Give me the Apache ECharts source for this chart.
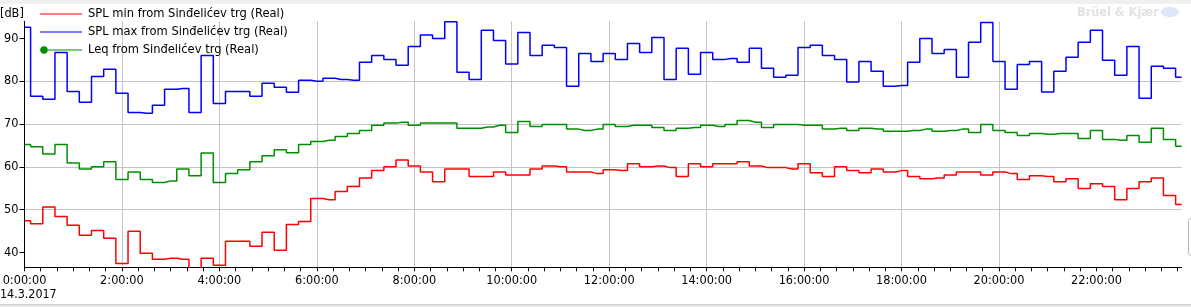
<!DOCTYPE html>
<html>
<head>
<meta charset="utf-8">
<script src="https://cdn.jsdelivr.net/npm/echarts@6/dist/echarts.min.js"></script>
<style>
html,body{margin:0;padding:0;background:#fff;}
#c{width:1191px;height:307px;}
</style>
</head>
<body>
<div id="c"></div>
<script>
// 15-minute measurement intervals on 14.3.2017
const timeLabels = [
 '0:00','0:15','0:30','0:45','1:00','1:15','1:30','1:45','2:00','2:15','2:30','2:45',
 '3:00','3:15','3:30','3:45','4:00','4:15','4:30','4:45','5:00','5:15','5:30','5:45',
 '6:00','6:15','6:30','6:45','7:00','7:15','7:30','7:45','8:00','8:15','8:30','8:45',
 '9:00','9:15','9:30','9:45','10:00','10:15','10:30','10:45','11:00','11:15','11:30','11:45',
 '12:00','12:15','12:30','12:45','13:00','13:15','13:30','13:45','14:00','14:15','14:30','14:45',
 '15:00','15:15','15:30','15:45','16:00','16:15','16:30','16:45','17:00','17:15','17:30','17:45',
 '18:00','18:15','18:30','18:45','19:00','19:15','19:30','19:45','20:00','20:15','20:30','20:45',
 '21:00','21:15','21:30','21:45','22:00','22:15','22:30','22:45','23:00','23:15','23:30','23:45'
];

const splMin = [
 47.4,46.7,50.6,48.4,46.3,44.0,45.1,43.3,37.4,44.9,39.8,38.4,
 38.6,38.4,35.5,38.6,37.0,42.6,42.6,41.4,44.7,40.5,46.5,47.2,
 52.6,52.3,54.2,55.4,57.4,59.1,60.0,61.6,60.2,58.8,56.5,59.5,
 59.5,57.7,57.7,58.8,58.1,58.1,59.5,60.2,60.0,58.8,58.8,58.4,
 59.3,59.1,60.7,60.0,60.2,59.8,57.7,60.7,60.0,60.7,60.7,61.2,
 60.2,59.8,59.8,59.5,60.7,58.6,57.7,60.0,59.1,58.6,59.5,58.8,
 59.1,57.7,57.2,57.4,58.1,58.8,58.8,58.1,58.8,58.4,57.0,57.9,
 57.7,56.5,57.2,54.9,56.0,55.4,52.3,54.9,56.5,57.4,53.3,51.2
];

const splMax = [
 92.6,76.5,75.8,86.7,77.6,75.1,81.1,82.8,77.2,72.7,72.5,74.4,
 78.1,78.3,72.7,86.0,74.8,77.6,77.6,76.5,79.5,78.6,77.4,80.2,
 80.0,80.7,80.4,80.2,84.4,86.0,85.1,83.7,88.1,90.8,90.0,93.9,
 82.1,80.4,91.9,89.5,84.0,91.4,86.0,88.4,87.9,78.8,86.5,84.6,
 86.5,85.1,88.8,86.7,90.2,80.4,87.7,81.6,86.7,85.1,85.3,84.4,
 87.7,83.0,80.9,81.4,87.9,88.4,86.0,85.1,79.8,84.6,82.3,78.8,
 79.0,84.4,90.0,86.5,87.4,80.9,89.1,93.7,84.6,78.1,83.9,84.6,
 77.5,82.3,85.6,89.1,91.9,84.9,81.4,88.1,76.0,83.5,83.0,80.9
];

const leq = [
 65.2,64.7,63.0,65.2,60.9,59.5,60.0,61.2,57.0,58.8,57.0,56.3,
 56.7,59.5,57.9,63.2,56.3,58.4,59.3,61.2,62.6,64.0,63.3,65.2,
 65.9,66.2,67.1,67.8,68.5,69.7,70.2,70.4,69.7,70.2,70.2,70.2,
 69.0,69.0,69.3,69.7,68.0,70.6,69.4,69.9,69.9,68.8,68.5,68.8,
 69.9,69.4,69.7,69.7,69.2,68.5,69.0,69.2,69.7,69.4,69.9,70.8,
 70.4,69.2,69.9,69.9,69.7,69.7,68.8,69.0,68.5,69.0,68.8,68.3,
 68.3,68.5,68.8,68.3,68.5,68.8,68.0,69.9,68.5,68.0,67.3,67.8,
 67.6,67.8,67.8,66.6,68.5,66.4,66.2,67.3,65.7,69.0,66.4,64.8
];

const xTicks = [0,2,4,6,8,10,12,14,16,18,20,22];
const yTicks = [40,50,60,70,80,90];
const dateLabel = '14.3.2017';

const FONT = "'DejaVu Sans Condensed', 'DejaVu Sans', sans-serif";

function toHours(s){ const p = s.split(':'); return +p[0] + (+p[1])/60; }
const hours = timeLabels.map(toHours);
const pairs = arr => arr.map((v,i)=>[hours[i], v]);

const lineIcon = 'path://M0,0 L0.01,0 Z M0,8 L0.01,8 Z M0,3.5 H42 V4.5 H0 Z';
const dotIcon = 'path://M0,0 L0.01,0 Z M0,8 L0.01,8 Z M0,3.5 H42 V4.5 H0 Z M0.3,4 A3.7,3.7 0 1 1 7.7,4 A3.7,3.7 0 1 1 0.3,4 Z';

const chart = echarts.init(document.getElementById('c'), null, {renderer:'canvas'});
chart.setOption({
  animation:false,
  backgroundColor:'#fff',
  textStyle:{fontFamily:FONT},
  grid:{left:24.5, right:9.3, top:21.3, bottom:39.7, outerBoundsMode:'none', containLabel:false},
  legend:{
    orient:'vertical', left:40, top:7, padding:0,
    itemWidth:42, itemHeight:8, itemGap:4, symbolKeepAspect:false,
    textStyle:{fontFamily:FONT, fontSize:12.8, color:'#000', lineHeight:14, padding:[0,0,0,1]},
    data:[
      {name:'SPL min from Sinđelićev trg (Real)', icon:lineIcon},
      {name:'SPL max from Sinđelićev trg (Real)', icon:lineIcon},
      {name:'Leq from Sinđelićev trg (Real)', icon:dotIcon}
    ]
  },
  xAxis:{
    type:'value', min:0, max:hours[hours.length-1], interval:2,
    axisLine:{lineStyle:{color:'#000', width:1}},
    axisTick:{show:true, length:4, lineStyle:{color:'#000'}, customValues:xTicks},
    minorTick:{show:true, splitNumber:6, length:4, lineStyle:{color:'#000'}},
    axisLabel:{color:'#000', fontSize:12.6, fontFamily:FONT, margin:7, customValues:xTicks,
      formatter:v=>v+':00:00'},
    splitLine:{show:true, showMinLine:false, showMaxLine:false, lineStyle:{color:'#c4c4c4', width:1}},
    minorSplitLine:{show:false}
  },
  yAxis:{
    type:'value', min:36.5, max:94,
    axisLine:{show:true, lineStyle:{color:'#000', width:1}},
    axisTick:{show:true, length:5, lineStyle:{color:'#000'}, customValues:yTicks},
    axisLabel:{color:'#000', fontSize:12.6, fontFamily:FONT, margin:6, customValues:yTicks},
    splitLine:{show:true, showMinLine:false, showMaxLine:false, lineStyle:{color:'#c4c4c4', width:1}}
  },
  series:[
    {name:'Leq from Sinđelićev trg (Real)', type:'line', step:'middle', symbol:'none',
     data:pairs(leq), color:'#008f00', lineStyle:{width:1.5, color:'#008f00'}, z:2},
    {name:'SPL max from Sinđelićev trg (Real)', type:'line', step:'middle', symbol:'none',
     data:pairs(splMax), color:'#0000ff', lineStyle:{width:1.5, color:'#0000ff'}, z:3},
    {name:'SPL min from Sinđelićev trg (Real)', type:'line', step:'middle', symbol:'none',
     data:pairs(splMin), color:'#ff0000', lineStyle:{width:1.5, color:'#ff0000'}, z:4}
  ],
  graphic:[
    {type:'rect', left:0, top:0, shape:{width:1191, height:4}, style:{fill:'#f0f0f0'}, silent:true},
    {type:'rect', left:0, top:304, shape:{width:1191, height:3}, style:{fill:'#e8e8e8'}, silent:true},
    {type:'rect', left:0, top:304, shape:{width:1191, height:1}, style:{fill:'#cfcfcf'}, silent:true},
    {type:'rect', left:1188, top:218, shape:{width:10, height:37, r:3}, style:{fill:'#fff', stroke:'#b8b8b8', lineWidth:1}, silent:true},
    {type:'text', left:0, top:7, style:{text:'[dB]', fontFamily:FONT, fontSize:12.6, fill:'#000'}, silent:true},
    {type:'text', left:0, top:289, style:{text:dateLabel, fontFamily:FONT, fontSize:12.4, fill:'#000'}, silent:true},
    {type:'text', left:1077, top:6, style:{text:'Brüel & Kjær', fontFamily:FONT, fontSize:12.6, fontWeight:'bold', fill:'#e2e2e2'}, silent:true},
    {type:'ellipse', left:1161, top:7, shape:{cx:9, cy:5, rx:9, ry:5}, style:{fill:'#dde7f5'}, silent:true}
  ]
});
</script>
</body>
</html>
